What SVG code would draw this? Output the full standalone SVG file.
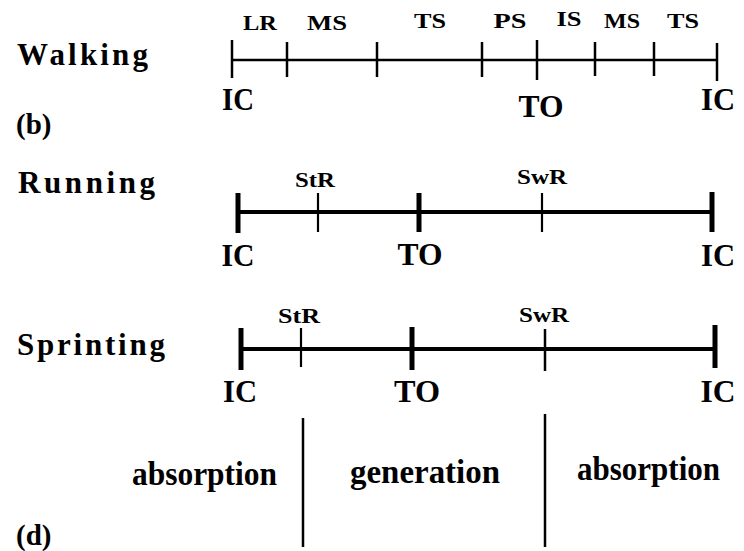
<svg xmlns="http://www.w3.org/2000/svg" width="744" height="551" viewBox="0 0 744 551">
<style>
text{font-family:"Liberation Serif","Times New Roman",serif;font-weight:bold;fill:#000}
.title{font-size:31px}
.ev{font-size:32px;text-anchor:middle}
.ph{font-size:21px;text-anchor:middle}
.big{font-size:34px}
.pan{font-size:29px}
line{stroke:#000;stroke-linecap:butt}
.w{stroke-width:2.5}
.r{stroke-width:4}
.thick{stroke-width:5}
.thin{stroke-width:2.2}
.div{stroke-width:2.5}
</style>
<rect width="744" height="551" fill="#fff"/>

<g id="walking">
  <text class="title" x="17" y="65" textLength="131">Walking</text>
  <text class="pan" x="16" y="134">(b)</text>
  <g id="walking-lines">
    <line class="w" x1="232" y1="60" x2="718" y2="60"/>
    <line class="w" x1="232" y1="40" x2="232" y2="78"/>
    <line class="w" x1="287" y1="42" x2="287" y2="77"/>
    <line class="w" x1="377" y1="42" x2="377" y2="77"/>
    <line class="w" x1="482" y1="42" x2="482" y2="77"/>
    <line class="w" x1="537" y1="40" x2="537" y2="80"/>
    <line class="w" x1="595" y1="42" x2="595" y2="76"/>
    <line class="w" x1="654" y1="42" x2="654" y2="76"/>
    <line class="w" x1="717" y1="43" x2="717" y2="81"/>
  </g>
  <text class="ph" x="260" y="30" textLength="34" lengthAdjust="spacingAndGlyphs">LR</text>
  <text class="ph" x="327" y="30" textLength="40" lengthAdjust="spacingAndGlyphs">MS</text>
  <text class="ph" x="430" y="28" textLength="32" lengthAdjust="spacingAndGlyphs">TS</text>
  <text class="ph" x="510" y="28" textLength="33" lengthAdjust="spacingAndGlyphs">PS</text>
  <text class="ph" x="569" y="26" textLength="25" lengthAdjust="spacingAndGlyphs">IS</text>
  <text class="ph" x="622" y="28" textLength="36" lengthAdjust="spacingAndGlyphs">MS</text>
  <text class="ph" x="683" y="28" textLength="32" lengthAdjust="spacingAndGlyphs">TS</text>
  <text class="ev" x="238" y="110" textLength="32" lengthAdjust="spacingAndGlyphs">IC</text>
  <text class="ev" x="541" y="117" textLength="45" lengthAdjust="spacingAndGlyphs">TO</text>
  <text class="ev" x="718" y="110" textLength="34" lengthAdjust="spacingAndGlyphs">IC</text>
</g>

<g id="running">
  <text class="title" x="18" y="193" textLength="137">Running</text>
  <g id="running-lines">
    <line class="r" x1="238" y1="212" x2="712" y2="212"/>
    <line class="thick" x1="238" y1="193" x2="238" y2="233"/>
    <line class="thin" x1="318" y1="193" x2="318" y2="232"/>
    <line class="thick" x1="419" y1="193" x2="419" y2="232"/>
    <line class="thin" x1="542" y1="193" x2="542" y2="232"/>
    <line class="thick" x1="712" y1="192" x2="712" y2="232"/>
  </g>
  <text class="ph" x="315" y="187" textLength="40" lengthAdjust="spacingAndGlyphs">StR</text>
  <text class="ph" x="542" y="184" textLength="50" lengthAdjust="spacingAndGlyphs">SwR</text>
  <text class="ev" x="238" y="266" textLength="33" lengthAdjust="spacingAndGlyphs">IC</text>
  <text class="ev" x="420" y="265" textLength="45" lengthAdjust="spacingAndGlyphs">TO</text>
  <text class="ev" x="718" y="266" textLength="34" lengthAdjust="spacingAndGlyphs">IC</text>
</g>

<g id="sprinting">
  <text class="title" x="17" y="355" textLength="148">Sprinting</text>
  <g id="sprinting-lines">
    <line class="r" x1="241" y1="349" x2="715" y2="349"/>
    <line class="thick" x1="241" y1="328" x2="241" y2="370"/>
    <line class="thin" x1="301" y1="328" x2="301" y2="367"/>
    <line class="thick" x1="412" y1="327" x2="412" y2="370"/>
    <line class="w" x1="545" y1="329" x2="545" y2="371"/>
    <line class="thick" x1="715" y1="325" x2="715" y2="368"/>
  </g>
  <text class="ph" x="299" y="323" textLength="42" lengthAdjust="spacingAndGlyphs">StR</text>
  <text class="ph" x="544" y="322" textLength="50" lengthAdjust="spacingAndGlyphs">SwR</text>
  <text class="ev" x="240" y="402" textLength="34" lengthAdjust="spacingAndGlyphs">IC</text>
  <text class="ev" x="417" y="402" textLength="46" lengthAdjust="spacingAndGlyphs">TO</text>
  <text class="ev" x="718" y="402" textLength="35" lengthAdjust="spacingAndGlyphs">IC</text>
</g>

<g id="power">
  <g id="power-lines">
    <line class="div" x1="303" y1="418" x2="303" y2="547"/>
    <line class="div" x1="545" y1="414" x2="545" y2="547"/>
  </g>
  <text class="big" x="132" y="485" textLength="145" lengthAdjust="spacingAndGlyphs">absorption</text>
  <text class="big" x="350" y="483" textLength="150" lengthAdjust="spacingAndGlyphs">generation</text>
  <text class="big" x="577" y="480" textLength="143" lengthAdjust="spacingAndGlyphs">absorption</text>
  <text class="pan" x="16" y="545">(d)</text>
</g>
</svg>
